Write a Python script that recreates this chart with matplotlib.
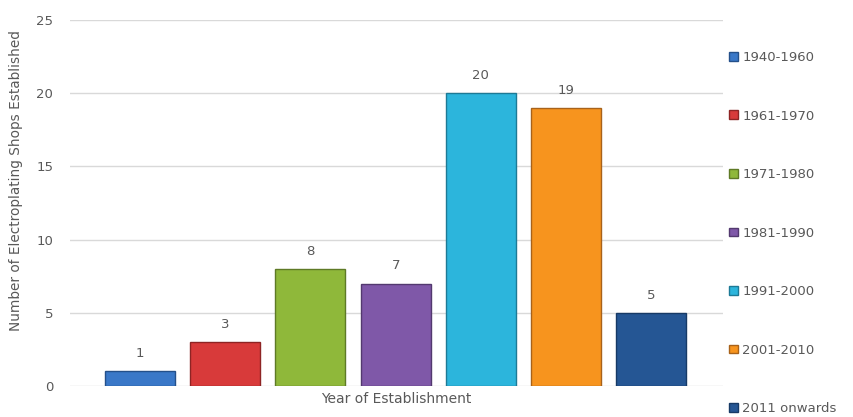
import matplotlib
matplotlib.use("Agg")
import matplotlib.pyplot as plt

categories = ["1940-1960", "1961-1970", "1971-1980", "1981-1990", "1991-2000", "2001-2010", "2011 onwards"]
values = [1, 3, 8, 7, 20, 19, 5]
colors = ["#3a78c8", "#d83a3a", "#8fb83a", "#7f58a8", "#2cb5dc", "#f7941e", "#255694"]
edges = ["#24508a", "#8e2424", "#5e7a26", "#53396f", "#1d7a96", "#a8621a", "#173a66"]
yticks = [0, 5, 10, 15, 20, 25]

plt.rcParams['font.family'] = ['DejaVu Sans']
fig = plt.figure(figsize=(8.54, 4.17), dpi=100)
ax = fig.add_axes([70/854, 1-386/417, (723-70)/854, (386-20)/417])

x = list(range(len(values)))
bars = ax.bar(x, values, width=0.82, color=colors, edgecolor=edges, linewidth=1.0, zorder=3)
ax.bar_label(bars, labels=[str(v) for v in values], padding=8, fontsize=9.5, color="#595959")

ax.set_xlim(-0.82, 6.84)
ax.set_ylim(0, 25)
ax.set_yticks(yticks)
ax.set_yticklabels([str(t) for t in yticks], fontsize=9.5, color="#595959")
ax.set_xticks([])
ax.tick_params(axis='y', length=0, pad=12)
ax.grid(axis='y', color="#d9d9d9", linewidth=1.0, zorder=0)
for s in ax.spines.values():
    s.set_visible(False)

ax.set_xlabel("Year of Establishment", fontsize=10, color="#595959", labelpad=4)
ax.set_ylabel("Number of Electroplating Shops Established", fontsize=9.8, color="#595959")
ax.yaxis.set_label_coords(-0.072, 0.56)

leg = fig.legend(bars, categories, loc='upper left', bbox_to_anchor=(729/854, 1-51/417),
                 frameon=False, fontsize=9.5, labelspacing=3.45, handlelength=0.65,
                 handleheight=0.65, handletextpad=0.35, borderaxespad=0, borderpad=0)
for t in leg.get_texts():
    t.set_color("#595959")

fig.savefig("out.png", dpi=100)
